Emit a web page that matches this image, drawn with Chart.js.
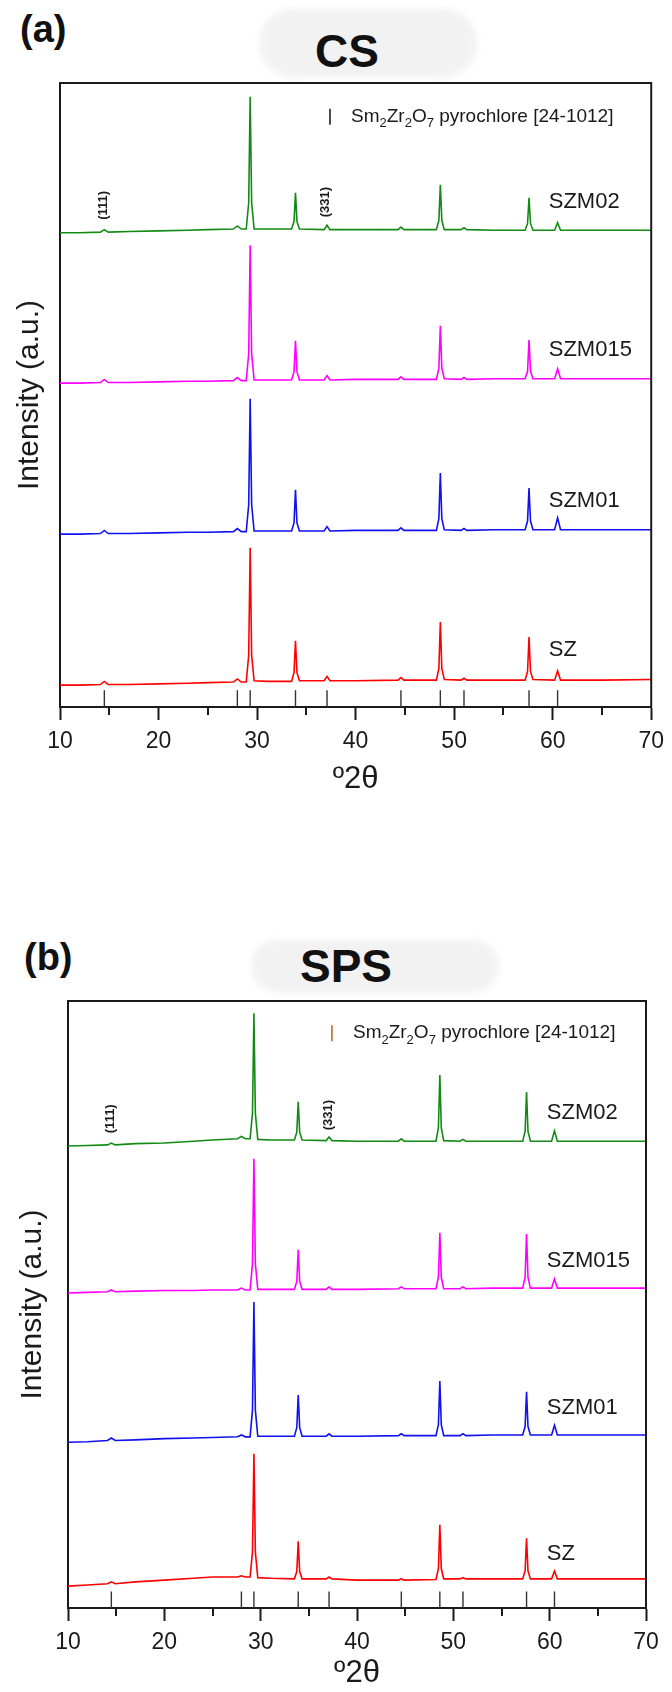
<!DOCTYPE html>
<html>
<head>
<meta charset="utf-8">
<script src="https://cdn.jsdelivr.net/npm/chart.js@4.4.1/dist/chart.umd.min.js"></script>
<style>
  html, body { margin: 0; padding: 0; background: #fff; }
  #page { position: relative; width: 672px; height: 1692px; overflow: hidden; font-family: "Liberation Sans", Arial, sans-serif; color: #111; }
  canvas { position: absolute; left: 0; }
  .tag { position: absolute; font-weight: bold; font-size: 38px; line-height: 38px; }
  .blob { position: absolute; background: #f2f2f2; border-radius: 36px; filter: blur(3px); }
  .head { position: absolute; font-weight: bold; font-size: 46px; line-height: 46px; transform: translateX(-50%); }
</style>
</head>
<body>
<div id="page">
  <div class="tag" style="left:20px; top:10px;">(a)</div>
  <div class="blob" style="left:259px; top:9px; width:218px; height:68px;"></div>
  <div class="head" style="left:347px; top:28px;">CS</div>
  <canvas id="cs-chart" width="672" height="800" style="top:0;"></canvas>

  <div class="tag" style="left:24px; top:938px;">(b)</div>
  <div class="blob" style="left:251px; top:940px; width:248px; height:52px;"></div>
  <div class="head" style="left:346px; top:943px;">SPS</div>
  <canvas id="sps-chart" width="672" height="812" style="top:880px;"></canvas>
</div>
<script>
// ── Shared axis values ──────────────────────────────────
const xTicks = [10, 20, 30, 40, 50, 60, 70];
const minorTicks = [15, 25, 35, 45, 55, 65];
// Sm2Zr2O7 pyrochlore reference card [24-1012], peak positions (°2θ)
const cardPeaks = [14.5, 28.0, 29.3, 33.9, 37.1, 44.6, 48.6, 51.0, 57.6, 60.5];
const cardBar = 2.7;
const sampleNames = ['SZ', 'SZM01', 'SZM015', 'SZM02'];

// ── CS patterns, [°2θ, intensity a.u.] (stacked) ────────
const csSZ = [
  [10, 3.5], [12, 3.5], [14.1, 3.6], [14.5, 4.1], [14.9, 3.6], [17, 3.6], [20, 3.7], [23, 3.8], [25, 3.9],
  [27.6, 4.0], [28.0, 4.5], [28.4, 4.0], [28.9, 4.0], [29.15, 8.3], [29.3, 25.5], [29.45, 8.3], [29.7, 4.2],
  [31, 4.1], [33.5, 4.1], [33.75, 5.5], [33.9, 10.6], [34.05, 5.5], [34.3, 4.2], [36.8, 4.2], [37.1, 4.9],
  [37.4, 4.2], [40, 4.2], [44.3, 4.3], [44.6, 4.7], [44.9, 4.3], [48.2, 4.3], [48.45, 6.2], [48.6, 13.6],
  [48.75, 6.2], [49.0, 4.4], [50.7, 4.3], [51.0, 4.6], [51.3, 4.3], [54, 4.3], [57.2, 4.3], [57.45, 5.7],
  [57.6, 11.2], [57.75, 5.7], [58.0, 4.4], [60.2, 4.3], [60.5, 5.8], [60.8, 4.3], [65, 4.3], [70, 4.4],
];
const csSZM01 = [
  [10, 27.7], [12, 27.7], [14.1, 27.8], [14.5, 28.3], [14.9, 27.8], [17, 27.8], [20, 27.9], [23, 28.0], [25, 28.0],
  [27.6, 28.1], [28.0, 28.6], [28.4, 28.1], [28.9, 28.1], [29.15, 32.4], [29.3, 49.4], [29.45, 32.4], [29.7, 28.2],
  [31, 28.2], [33.5, 28.2], [33.75, 29.5], [33.9, 34.8], [34.05, 29.5], [34.3, 28.2], [36.8, 28.2], [37.1, 28.9],
  [37.4, 28.2], [40, 28.3], [44.3, 28.3], [44.6, 28.7], [44.9, 28.3], [48.2, 28.3], [48.45, 30.2], [48.6, 37.5],
  [48.75, 30.2], [49.0, 28.4], [50.7, 28.3], [51.0, 28.6], [51.3, 28.3], [54, 28.4], [57.2, 28.4], [57.45, 29.8],
  [57.6, 35.1], [57.75, 29.8], [58.0, 28.4], [60.2, 28.4], [60.5, 30.3], [60.8, 28.4], [65, 28.4], [70, 28.4],
];
const csSZM015 = [
  [10, 51.9], [12, 51.9], [14.1, 52.0], [14.5, 52.5], [14.9, 52.0], [17, 52.0], [20, 52.1], [23, 52.2], [25, 52.2],
  [27.6, 52.3], [28.0, 52.8], [28.4, 52.3], [28.9, 52.3], [29.15, 56.6], [29.3, 74.0], [29.45, 56.6], [29.7, 52.4],
  [31, 52.4], [33.5, 52.4], [33.75, 53.7], [33.9, 58.7], [34.05, 53.7], [34.3, 52.4], [36.8, 52.4], [37.1, 53.1],
  [37.4, 52.4], [40, 52.5], [44.3, 52.5], [44.6, 52.9], [44.9, 52.5], [48.2, 52.5], [48.45, 54.3], [48.6, 61.1],
  [48.75, 54.3], [49.0, 52.6], [50.7, 52.5], [51.0, 52.8], [51.3, 52.5], [54, 52.6], [57.2, 52.6], [57.45, 53.8],
  [57.6, 58.8], [57.75, 53.8], [58.0, 52.6], [60.2, 52.6], [60.5, 54.2], [60.8, 52.6], [65, 52.6], [70, 52.6],
];
const csSZM02 = [
  [10, 76.0], [12, 76.0], [14.1, 76.1], [14.5, 76.5], [14.9, 76.1], [17, 76.2], [20, 76.3], [23, 76.4], [25, 76.5],
  [27.6, 76.6], [28.0, 77.1], [28.4, 76.6], [28.9, 76.6], [29.15, 80.8], [29.3, 97.8], [29.45, 80.8], [29.7, 76.6],
  [31, 76.6], [33.5, 76.6], [33.75, 77.8], [33.9, 82.4], [34.05, 77.8], [34.3, 76.6], [36.8, 76.5], [37.1, 77.2],
  [37.4, 76.5], [40, 76.5], [44.3, 76.5], [44.6, 76.9], [44.9, 76.5], [48.2, 76.5], [48.45, 78.0], [48.6, 83.7],
  [48.75, 78.0], [49.0, 76.5], [50.7, 76.5], [51.0, 76.8], [51.3, 76.5], [54, 76.4], [57.2, 76.4], [57.45, 77.5],
  [57.6, 81.6], [57.75, 77.5], [58.0, 76.4], [60.2, 76.4], [60.5, 77.6], [60.8, 76.4], [65, 76.4], [70, 76.4],
];

// ── SPS patterns, [°2θ, intensity a.u.] (stacked) ───────
const spsSZ = [
  [10, 3.6], [12, 3.8], [14.1, 4.0], [14.5, 4.3], [14.9, 4.0], [17, 4.3], [20, 4.6], [23, 4.9], [25, 5.1],
  [27.6, 5.1], [28.0, 5.3], [28.4, 5.1], [28.9, 5.1], [29.15, 9.2], [29.3, 25.4], [29.45, 9.2], [29.7, 5.0],
  [31, 4.9], [33.5, 4.8], [33.75, 6.0], [33.9, 11.0], [34.05, 6.0], [34.3, 4.8], [36.8, 4.8], [37.1, 5.1],
  [37.4, 4.8], [40, 4.6], [44.3, 4.6], [44.6, 4.8], [44.9, 4.6], [48.2, 4.7], [48.45, 6.5], [48.6, 13.7],
  [48.75, 6.5], [49.0, 4.8], [50.7, 4.8], [51.0, 5.0], [51.3, 4.8], [54, 4.8], [57.2, 4.8], [57.45, 6.1],
  [57.6, 11.5], [57.75, 6.1], [58.0, 4.8], [60.2, 4.8], [60.5, 6.1], [60.8, 4.8], [65, 4.8], [70, 4.8],
];
const spsSZM01 = [
  [10, 27.3], [12, 27.4], [14.1, 27.6], [14.5, 28.0], [14.9, 27.6], [17, 27.7], [20, 27.9], [23, 28.0], [25, 28.1],
  [27.6, 28.2], [28.0, 28.5], [28.4, 28.2], [28.9, 28.2], [29.15, 32.6], [29.3, 50.4], [29.45, 32.6], [29.7, 28.3],
  [31, 28.3], [33.5, 28.3], [33.75, 29.7], [33.9, 35.1], [34.05, 29.7], [34.3, 28.3], [36.8, 28.3], [37.1, 28.7],
  [37.4, 28.3], [40, 28.3], [44.3, 28.4], [44.6, 28.7], [44.9, 28.4], [48.2, 28.4], [48.45, 30.2], [48.6, 37.4],
  [48.75, 30.2], [49.0, 28.4], [50.7, 28.4], [51.0, 28.7], [51.3, 28.4], [54, 28.5], [57.2, 28.5], [57.45, 29.9],
  [57.6, 35.6], [57.75, 29.9], [58.0, 28.5], [60.2, 28.5], [60.5, 30.1], [60.8, 28.5], [65, 28.5], [70, 28.5],
];
const spsSZM015 = [
  [10, 51.9], [12, 52.0], [14.1, 52.1], [14.5, 52.4], [14.9, 52.1], [17, 52.2], [20, 52.3], [23, 52.3], [25, 52.4],
  [27.6, 52.4], [28.0, 52.7], [28.4, 52.4], [28.9, 52.4], [29.15, 56.7], [29.3, 74.0], [29.45, 56.7], [29.7, 52.5],
  [31, 52.5], [33.5, 52.5], [33.75, 53.8], [33.9, 59.0], [34.05, 53.8], [34.3, 52.5], [36.8, 52.5], [37.1, 52.9],
  [37.4, 52.5], [40, 52.5], [44.3, 52.6], [44.6, 52.9], [44.9, 52.6], [48.2, 52.6], [48.45, 54.5], [48.6, 61.8],
  [48.75, 54.5], [49.0, 52.6], [50.7, 52.6], [51.0, 52.9], [51.3, 52.6], [54, 52.7], [57.2, 52.7], [57.45, 54.5],
  [57.6, 61.6], [57.75, 54.5], [58.0, 52.7], [60.2, 52.7], [60.5, 54.2], [60.8, 52.7], [65, 52.7], [70, 52.7],
];
const spsSZM02 = [
  [10, 76.1], [12, 76.2], [14.1, 76.3], [14.5, 76.6], [14.9, 76.3], [17, 76.5], [20, 76.6], [23, 76.9], [25, 77.1],
  [27.6, 77.3], [28.0, 77.7], [28.4, 77.3], [28.9, 77.3], [29.15, 81.5], [29.3, 98.0], [29.45, 81.5], [29.7, 77.2],
  [31, 77.1], [33.5, 77.1], [33.75, 78.4], [33.9, 83.4], [34.05, 78.4], [34.3, 77.1], [36.8, 77.0], [37.1, 77.6],
  [37.4, 77.0], [40, 76.9], [44.3, 76.9], [44.6, 77.3], [44.9, 76.9], [48.2, 76.9], [48.45, 79.1], [48.6, 87.8],
  [48.75, 79.1], [49.0, 77.0], [50.7, 76.9], [51.0, 77.2], [51.3, 76.9], [54, 76.9], [57.2, 76.9], [57.45, 78.5],
  [57.6, 85.0], [57.75, 78.5], [58.0, 76.9], [60.2, 76.9], [60.5, 78.6], [60.8, 76.9], [65, 76.9], [70, 76.9],
];

const lineColors = { SZ: '#ff0000', SZM01: '#1010f0', SZM015: '#ff00ff', SZM02: '#138a13' };
const ink = '#1a1a1a';
const fontFamily = '"Liberation Sans", Arial, sans-serif';

const toPoints = rows => rows.map(([x, y]) => ({ x, y }));

function cardSegments() {
  const pts = [];
  cardPeaks.forEach(p => { pts.push({ x: p, y: 0 }, { x: p, y: cardBar }, { x: p, y: null }); });
  return pts;
}

// frame, minor ticks, curve names, hkl marks, card legend
const panelDecor = {
  id: 'panelDecor',
  afterDatasetsDraw(chart, _args, opts) {
    const { ctx, chartArea: a, scales: { x, y } } = chart;
    ctx.save();
    ctx.strokeStyle = ink;
    ctx.lineWidth = 2;
    ctx.beginPath();
    ctx.moveTo(a.left, a.top);
    ctx.lineTo(a.right, a.top);
    ctx.lineTo(a.right, a.bottom);
    minorTicks.forEach(v => {
      const px = Math.round(x.getPixelForValue(v));
      ctx.moveTo(px, a.bottom);
      ctx.lineTo(px, a.bottom + 8);
    });
    ctx.stroke();

    ctx.fillStyle = ink;
    ctx.textBaseline = 'middle';
    ctx.font = `22px ${fontFamily}`;
    ctx.textAlign = 'left';
    opts.names.forEach(n => ctx.fillText(n.text, x.getPixelForValue(n.x), y.getPixelForValue(n.y)));

    ctx.font = `bold 13px ${fontFamily}`;
    ctx.textAlign = 'center';
    opts.hkl.forEach(h => {
      ctx.save();
      ctx.translate(x.getPixelForValue(h.x), y.getPixelForValue(h.y));
      ctx.rotate(-Math.PI / 2);
      ctx.fillText(h.text, 0, 0);
      ctx.restore();
    });

    // legend: | Sm2Zr2O7 pyrochlore [24-1012]
    const lx = x.getPixelForValue(opts.legend.x);
    const ly = y.getPixelForValue(opts.legend.y);
    ctx.strokeStyle = opts.legend.color;
    ctx.lineWidth = 1.6;
    ctx.beginPath();
    ctx.moveTo(lx, ly - 8);
    ctx.lineTo(lx, ly + 8);
    ctx.stroke();
    ctx.textAlign = 'left';
    let tx = lx + 21;
    [['Sm', 0], ['2', 1], ['Zr', 0], ['2', 1], ['O', 0], ['7', 1], [' pyrochlore [24-1012]', 0]].forEach(([t, sub]) => {
      ctx.font = sub ? `13px ${fontFamily}` : `19px ${fontFamily}`;
      ctx.fillText(t, tx, ly + (sub ? 7 : 0));
      tx += ctx.measureText(t).width;
    });
    ctx.restore();
  },
};

function buildChart(canvasId, series, cfg) {
  const datasets = sampleNames.map((name, i) => ({
    label: name,
    data: toPoints(series[i]),
    borderColor: lineColors[name],
    borderWidth: 1.6,
    pointRadius: 0,
    tension: 0,
  }));
  datasets.push({
    label: 'card',
    data: cardSegments(),
    borderColor: '#333',
    borderWidth: 1.4,
    pointRadius: 0,
    spanGaps: false,
  });

  return new Chart(document.getElementById(canvasId), {
    type: 'line',
    data: { datasets },
    plugins: [panelDecor],
    options: {
      responsive: false,
      animation: false,
      events: [],
      layout: { padding: { top: cfg.top, right: cfg.right, left: 0, bottom: 0 } },
      scales: {
        x: {
          type: 'linear',
          min: 10,
          max: 70,
          afterFit: s => { s.height = cfg.xHeight; },
          afterBuildTicks: s => { s.ticks = xTicks.map(v => ({ value: v })); },
          ticks: { autoSkip: false, maxRotation: 0, padding: 8, color: ink, font: { family: fontFamily, size: 23 } },
          grid: { drawOnChartArea: false, tickLength: 13, tickWidth: 2, tickColor: ink, color: ink },
          border: { color: ink, width: 2 },
          title: { display: true, text: 'º2θ', color: ink, font: { family: fontFamily, size: 31, lineHeight: 1.2 }, padding: { top: 0, bottom: cfg.xTitlePad } },
        },
        y: {
          min: 0,
          max: 100,
          afterFit: s => { s.width = cfg.yWidth; },
          ticks: { display: false },
          grid: { display: false },
          border: { color: ink, width: 2 },
          title: { display: true, text: 'Intensity (a.u.)', color: ink, font: { family: fontFamily, size: 30, lineHeight: 1.2 }, padding: { top: cfg.yTitlePad, bottom: 0 } },
        },
      },
      plugins: {
        legend: { display: false },
        tooltip: { enabled: false },
        panelDecor: cfg.notes,
      },
    },
  });
}

buildChart('cs-chart', [csSZ, csSZM01, csSZM015, csSZM02], {
  top: 83, right: 16, xHeight: 93, yWidth: 60, xTitlePad: 2, yTitlePad: 12,
  notes: {
    names: [
      { text: 'SZM02', x: 59.6, y: 80.9 },
      { text: 'SZM015', x: 59.6, y: 57.2 },
      { text: 'SZM01', x: 59.6, y: 33.0 },
      { text: 'SZ', x: 59.6, y: 9.1 },
    ],
    hkl: [{ text: '(111)', x: 14.4, y: 80.4 }, { text: '(331)', x: 36.9, y: 80.9 }],
    legend: { x: 37.4, y: 94.6, color: '#222' },
  },
});

buildChart('sps-chart', [spsSZ, spsSZM01, spsSZM015, spsSZM02], {
  top: 121, right: 26, xHeight: 84, yWidth: 68, xTitlePad: 0, yTitlePad: 15,
  notes: {
    names: [
      { text: 'SZM02', x: 59.7, y: 81.5 },
      { text: 'SZM015', x: 59.7, y: 57.2 },
      { text: 'SZM01', x: 59.7, y: 32.9 },
      { text: 'SZ', x: 59.7, y: 8.9 },
    ],
    hkl: [{ text: '(111)', x: 14.4, y: 80.6 }, { text: '(331)', x: 37.0, y: 81.2 }],
    legend: { x: 37.4, y: 94.7, color: '#c06a28' },
  },
});
</script>
</body>
</html>
